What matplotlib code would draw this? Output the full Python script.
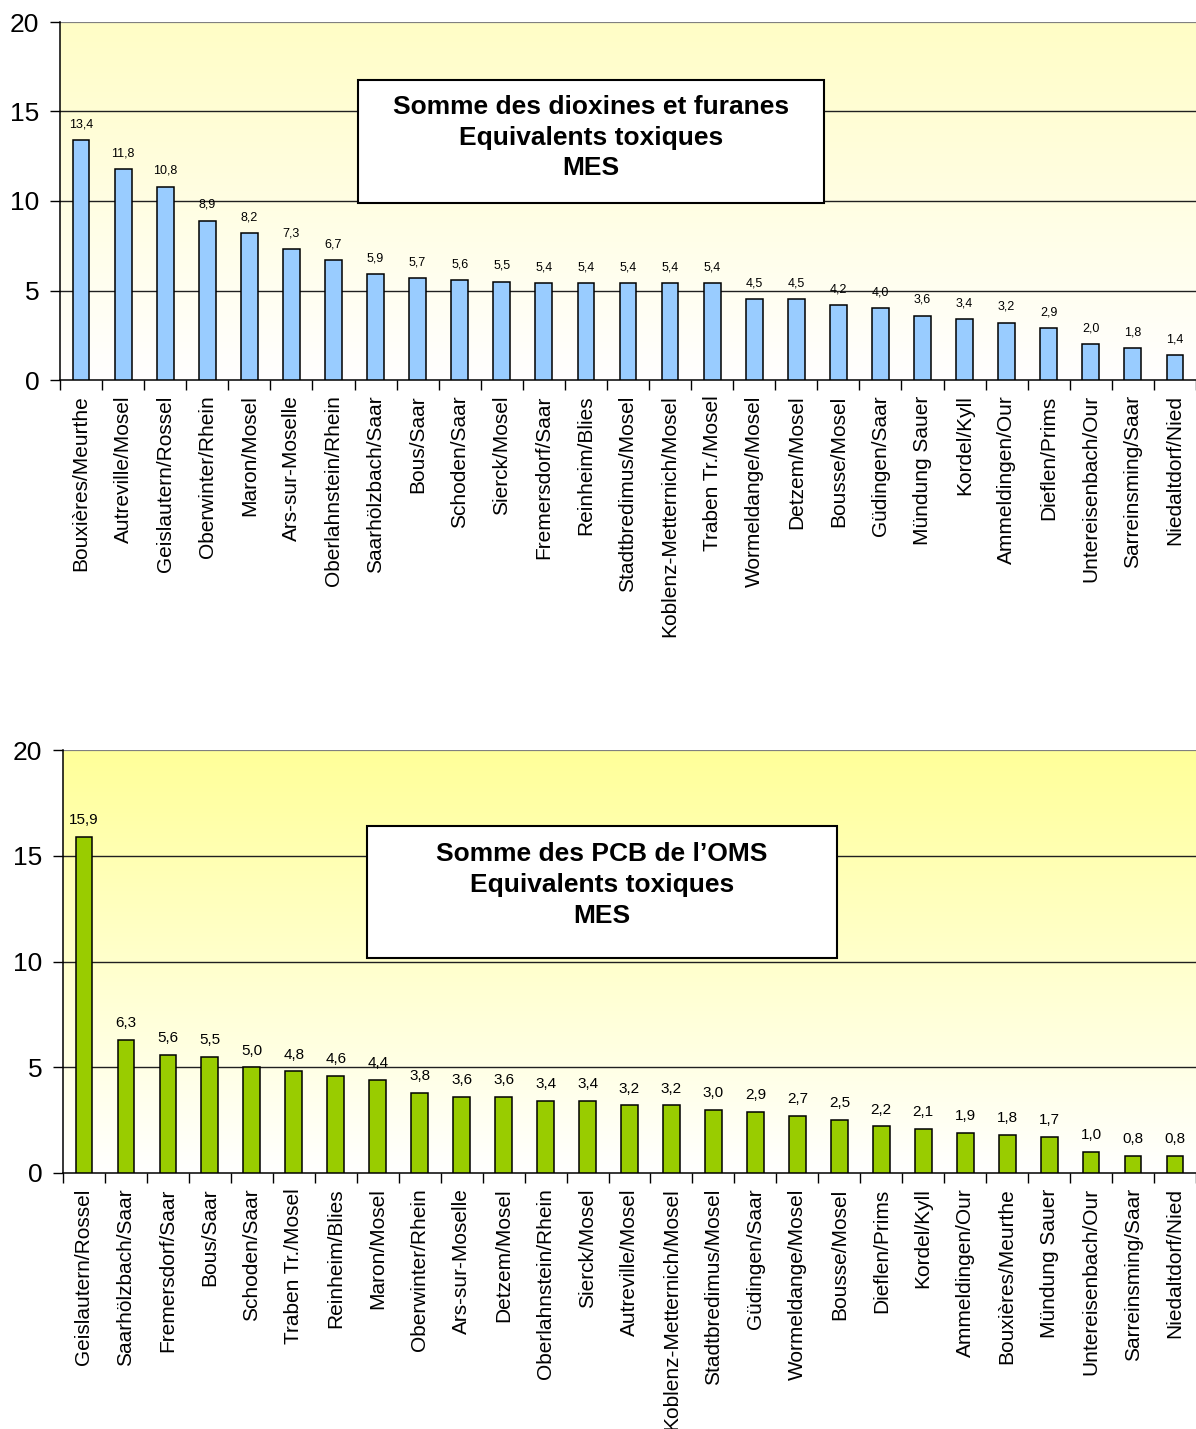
import numpy as np
import matplotlib
matplotlib.use("Agg")
import matplotlib.pyplot as plt
from matplotlib.patches import Rectangle
from matplotlib.colors import LinearSegmentedColormap

plt.rcParams['font.family'] = ['Liberation Sans', 'DejaVu Sans']

# Dioxines / furanes (MES)
sites_diox = ["Bouxières/Meurthe", "Autreville/Mosel", "Geislautern/Rossel", "Oberwinter/Rhein",
              "Maron/Mosel", "Ars-sur-Moselle", "Oberlahnstein/Rhein", "Saarhölzbach/Saar",
              "Bous/Saar", "Schoden/Saar", "Sierck/Mosel", "Fremersdorf/Saar", "Reinheim/Blies",
              "Stadtbredimus/Mosel", "Koblenz-Metternich/Mosel", "Traben Tr./Mosel",
              "Wormeldange/Mosel", "Detzem/Mosel", "Bousse/Mosel", "Güdingen/Saar",
              "Mündung Sauer", "Kordel/Kyll", "Ammeldingen/Our", "Dieflen/Prims",
              "Untereisenbach/Our", "Sarreinsming/Saar", "Niedaltdorf/Nied"]
values_diox = [13.4, 11.8, 10.8, 8.9, 8.2, 7.3, 6.7, 5.9, 5.7, 5.6, 5.5, 5.4, 5.4, 5.4, 5.4,
               5.4, 4.5, 4.5, 4.2, 4.0, 3.6, 3.4, 3.2, 2.9, 2.0, 1.8, 1.4]

# PCB de l'OMS (MES)
sites_pcb = ["Geislautern/Rossel", "Saarhölzbach/Saar", "Fremersdorf/Saar", "Bous/Saar",
             "Schoden/Saar", "Traben Tr./Mosel", "Reinheim/Blies", "Maron/Mosel",
             "Oberwinter/Rhein", "Ars-sur-Moselle", "Detzem/Mosel", "Oberlahnstein/Rhein",
             "Sierck/Mosel", "Autreville/Mosel", "Koblenz-Metternich/Mosel",
             "Stadtbredimus/Mosel", "Güdingen/Saar", "Wormeldange/Mosel", "Bousse/Mosel",
             "Dieflen/Prims", "Kordel/Kyll", "Ammeldingen/Our", "Bouxières/Meurthe",
             "Mündung Sauer", "Untereisenbach/Our", "Sarreinsming/Saar", "Niedaltdorf/Nied"]
values_pcb = [15.9, 6.3, 5.6, 5.5, 5.0, 4.8, 4.6, 4.4, 3.8, 3.6, 3.6, 3.4, 3.4, 3.2, 3.2,
              3.0, 2.9, 2.7, 2.5, 2.2, 2.1, 1.9, 1.8, 1.7, 1.0, 0.8, 0.8]

y_ticks = [0, 5, 10, 15, 20]

W, H = 1196, 1429
fig = plt.figure(figsize=(W / 100, H / 100), dpi=100)


def px_axes(x0, y0, x1, y1):
    return fig.add_axes([x0 / W, 1 - y1 / H, (x1 - x0) / W, (y1 - y0) / H])


def draw_panel(ax, names, vals, color, top_color, label_size, title_lines, box, lift):
    n = len(names)
    x = np.arange(n)
    ax.set_xlim(-0.5, n - 0.5)
    ax.set_ylim(0, 20)

    # vertical gradient background: yellow at the top fading to white
    cmap = LinearSegmentedColormap.from_list("bg", ["white", top_color])
    grad = np.linspace(0, 1, 256).reshape(-1, 1)
    ax.imshow(grad, cmap=cmap, origin="lower", aspect="auto",
              extent=(-0.5, n - 0.5, 0, 20), zorder=0)

    for yv in y_ticks[1:-1]:
        ax.axhline(yv, color="#202020", lw=1.0, zorder=1)
    ax.axhline(y_ticks[-1], color="#808080", lw=1.6, zorder=1)

    ax.bar(x, vals, width=0.4, color=color, edgecolor="black", linewidth=1.1, zorder=3)
    for xi, v in zip(x, vals):
        ax.annotate(f"{v:.1f}".replace(".", ","), (xi, v), xytext=(0, 7),
                    textcoords="offset points", ha="center", va="bottom",
                    fontsize=label_size, zorder=4)

    ax.set_yticks(y_ticks)
    ax.set_yticklabels([str(t) for t in y_ticks], fontsize=19)
    ax.tick_params(axis="y", direction="out", length=7, width=1, pad=8)

    ax.set_xticks(x)
    ax.set_xticklabels(names, rotation=90, fontsize=15)
    ax.set_xticks(np.arange(-0.5, n, 1.0), minor=True)
    ax.tick_params(axis="x", which="major", length=0, pad=11)
    ax.tick_params(axis="x", which="minor", direction="out", length=7, width=1)

    for s in ("top", "right"):
        ax.spines[s].set_visible(False)
    ax.spines["left"].set_linewidth(1.1)
    ax.spines["bottom"].set_linewidth(1.1)

    # title box
    bx0, by0, bx1, by1 = box
    rect = Rectangle((bx0 / W, 1 - by1 / H), (bx1 - bx0) / W, (by1 - by0) / H,
                     transform=fig.transFigure, facecolor="white", edgecolor="black",
                     linewidth=1.5, zorder=10)
    fig.patches.append(rect)
    fig.text((bx0 + bx1) / 2 / W, 1 - ((by0 + by1) / 2 - lift) / H, "\n".join(title_lines),
             ha="center", va="center", fontsize=19, fontweight="bold",
             linespacing=1.35, zorder=11)


ax1 = px_axes(60, 22, 1196, 380)
draw_panel(ax1, sites_diox, values_diox, "#99CCFF", "#FFFDC6", 9,
           ["Somme des dioxines et furanes", "Equivalents toxiques", "MES"],
           (358, 80, 824, 203), 4)

ax2 = px_axes(63, 750, 1196, 1173)
draw_panel(ax2, sites_pcb, values_pcb, "#99CC00", "#FFFF99", 11,
           ["Somme des PCB de l\u2019OMS", "Equivalents toxiques", "MES"],
           (367, 826, 837, 958), 7)

fig.savefig("out.png", dpi=100)
